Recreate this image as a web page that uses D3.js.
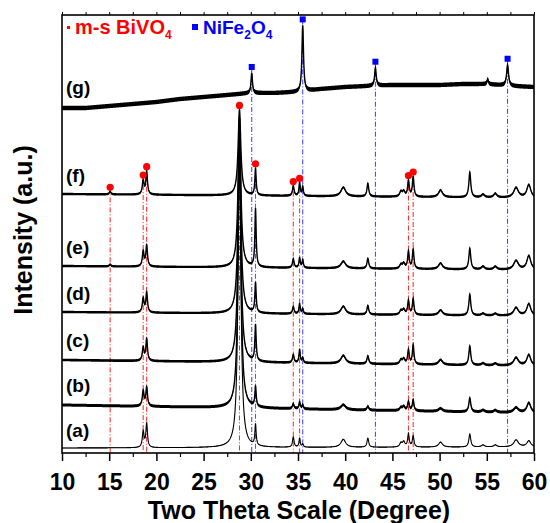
<!DOCTYPE html>
<html>
<head>
<meta charset="utf-8">
<script src="https://cdn.jsdelivr.net/npm/d3@7"></script>
<style>
  body { margin: 0; background: #fff; }
  text { font-family: "Liberation Sans", Arial, sans-serif; font-weight: bold; }
</style>
</head>
<body>
<div id="container"></div>
<script>
/* CONSTANTS AND GLOBALS */
const width = 550,
  height = 523,
  margin = {top: 15, right: 16, bottom: 70, left: 62};

/* DATA */
const xTicks = [10, 15, 20, 25, 30, 35, 40, 45, 50, 55, 60];
const xMinor = [12.5, 17.5, 22.5, 27.5, 32.5, 37.5, 42.5, 47.5, 52.5, 57.5];
const sampleLabels = ["(a)", "(b)", "(c)", "(d)", "(e)", "(f)", "(g)"];

// baselines (a.u.) at 10 and 60 degrees, samples a..f
const baseLeft = [5, 48, 93, 141, 187, 259];
const baseRight = [6, 40, 87, 137, 183, 255];
// visible noise band half-width, samples a..g
const noiseAmp = [0.3, 1.5, 1.3, 1.2, 1.2, 1.2, 2.2];

// reflections of the composite samples a..f
const peakPos =  [15.1, 18.6, 18.97, 28.8, 30.5, 34.5, 35.17, 35.5, 39.8, 42.4, 45.9, 46.2, 46.7, 47.2, 50.1, 53.2, 54.6, 55.9, 58.1, 59.45];
const peakHwhm = [0.1, 0.11, 0.1, 0.17, 0.08, 0.1, 0.08, 0.08, 0.3, 0.11, 0.15, 0.15, 0.1, 0.1, 0.25, 0.12, 0.2, 0.2, 0.3, 0.25];
const heightsA = [0, 16, 24, 318, 21, 10, 9, 3, 8, 9, 4, 5, 13, 11, 5, 13, 2, 2, 7, 6];
const heightsB = [0, 15, 19, 280, 20, 5, 7, 4, 5, 4, 3, 4, 9, 11, 3, 14, 2, 2, 5, 10];
const heightsC = [0, 13, 22, 235, 36, 8, 13, 5, 8, 8, 4, 5, 14, 19, 5, 19, 2, 2, 8, 11];
const heightsD = [0, 14, 20, 190, 30, 7, 10, 5, 8, 9, 4, 5, 14, 16, 5, 21, 2, 2, 8, 12];
const heightsE = [2, 15, 21, 150, 58, 9, 10, 8, 7, 10, 4, 5, 17, 19, 6, 21, 3, 3, 9, 14];
const heightsF = [3, 14, 23, 86, 27, 10, 13, 9, 9, 13, 5, 5, 16, 20, 7, 25, 3, 4, 10, 13];

// pure NiFe2O4 (g): sloping background plus its reflections
const gBackX = [10, 12.5, 15, 17.5, 20, 22.5, 25, 27.5, 30, 32.5, 35, 37.5, 40, 42.5, 45, 47.5, 50, 52.5, 55, 57.5, 60];
const gBackY = [345, 345, 347, 349, 351, 354, 356, 358, 360, 360, 361, 364, 366, 367, 368, 368, 368, 369, 369, 367, 366];
const gPeakPos = [30.1, 35.5, 43.2, 55.1, 57.2];
const gPeakHwhm = [0.09, 0.1, 0.1, 0.08, 0.12];
const gPeakHeight = [20, 66, 18, 5, 21];

const bivoMarks = [15.1, 18.6, 18.97, 28.8, 30.5, 34.5, 35.17, 46.7, 47.2];
const nifeMarks = [30.1, 35.5, 43.2, 57.2];

/* SCALES */
const xScale = d3.scaleLinear()
  .domain([10, 60])
  .range([margin.left, width - margin.right]);

const yScale = d3.scaleLinear()
  .domain([0, 438])
  .range([height - margin.bottom, margin.top]);

/* BUILD PATTERNS */
const step = 0.02;
const twoTheta = d3.range(10, 60 + step / 2, step);

function peakSum(t, pos, hw, hts) {
  let s = 0;
  for (let i = 0; i < pos.length; i++) {
    if (!hts[i]) continue;
    const u = (t - pos[i]) / hw[i];
    s += hts[i] / (1 + u * u);
  }
  return s;
}

const compHeights = [heightsA, heightsB, heightsC, heightsD, heightsE, heightsF];
const patterns = compHeights.map((hts, k) => twoTheta.map(t => ({
  t: t,
  v: baseLeft[k] + (baseRight[k] - baseLeft[k]) * (t - 10) / 50 + peakSum(t, peakPos, peakHwhm, hts)
})));

const gBack = d3.scaleLinear().domain(gBackX).range(gBackY);
patterns.push(twoTheta.map(t => ({
  t: t,
  v: gBack(t) + peakSum(t, gPeakPos, gPeakHwhm, gPeakHeight)
})));

function valueAt(p, t) {
  const i = Math.round((t - 10) / step);
  return p[Math.max(0, Math.min(p.length - 1, i))].v;
}

/* CREATE SVG ELEMENT */
const svg = d3.select("#container")
  .append("svg")
  .attr("width", width)
  .attr("height", height);

/* REFERENCE LINES */
const fPat = patterns[5], gPat = patterns[6];
const bottomY = yScale(0);

svg.append("g")
  .selectAll("line")
  .data(bivoMarks)
  .join("line")
  .attr("x1", d => xScale(d))
  .attr("x2", d => xScale(d))
  .attr("y1", d => yScale(valueAt(fPat, d)) - 4)
  .attr("y2", bottomY)
  .attr("stroke", "#ff2020")
  .attr("stroke-width", 1)
  .attr("stroke-dasharray", "5,2,1,2");

svg.append("g")
  .selectAll("line")
  .data(nifeMarks)
  .join("line")
  .attr("x1", d => xScale(d))
  .attr("x2", d => xScale(d))
  .attr("y1", d => yScale(valueAt(gPat, d)) - 6)
  .attr("y2", bottomY)
  .attr("stroke", "#3a3aff")
  .attr("stroke-width", 1)
  .attr("stroke-dasharray", "5,2,1,2");

/* DRAW PATTERNS */
const band = d3.area()
  .x(d => xScale(d.t))
  .y0(d => yScale(d.v) - d.n)
  .y1(d => yScale(d.v) + d.n);

const line = d3.line()
  .x(d => xScale(d.t))
  .y(d => yScale(d.v));

patterns.forEach((p, k) => {
  const withNoise = p.map(d => ({t: d.t, v: d.v, n: noiseAmp[k]}));
  svg.append("path")
    .attr("d", band(withNoise))
    .attr("fill", "#000");
  svg.append("path")
    .attr("d", line(p))
    .attr("fill", "none")
    .attr("stroke", "#000")
    .attr("stroke-width", k === 0 ? 1.1 : 1.4);
  svg.append("text")
    .attr("x", 66)
    .attr("y", yScale(p[0].v + 10 + noiseAmp[k] * 2))
    .attr("font-size", 19)
    .attr("fill", "#000")
    .text(sampleLabels[k]);
});

/* MARKERS */
svg.append("g")
  .selectAll("circle")
  .data(bivoMarks)
  .join("circle")
  .attr("cx", d => xScale(d))
  .attr("cy", d => yScale(valueAt(fPat, d)) - 4)
  .attr("r", 3.6)
  .attr("fill", "#ff0000");

svg.append("g")
  .selectAll("rect")
  .data(nifeMarks)
  .join("rect")
  .attr("x", d => xScale(d) - 3)
  .attr("y", d => yScale(valueAt(gPat, d)) - 9)
  .attr("width", 6)
  .attr("height", 6)
  .attr("fill", "#0000ff");

/* AXES */
const xAxis = d3.axisBottom(xScale).tickValues(xTicks).tickSize(8).tickPadding(13).tickFormat(d3.format("d"));
const gx = svg.append("g")
  .attr("transform", `translate(0,${height - margin.bottom})`)
  .call(xAxis);
gx.select(".domain").remove();
gx.selectAll("line").attr("stroke-width", 1.5);
gx.selectAll("text").attr("font-size", 23).attr("fill", "#000");

svg.append("g")
  .attr("transform", `translate(0,${height - margin.bottom})`)
  .call(d3.axisBottom(xScale).tickValues(xMinor).tickSize(4).tickFormat(""))
  .call(g => g.select(".domain").remove())
  .call(g => g.selectAll("line").attr("stroke-width", 1.2));

svg.append("g")
  .attr("transform", `translate(0,${margin.top})`)
  .call(d3.axisTop(xScale).tickValues(xTicks.concat(xMinor)).tickSize(3).tickFormat(""))
  .call(g => g.select(".domain").remove())
  .call(g => g.selectAll("line").attr("stroke-width", 1));

// frame
svg.append("rect")
  .attr("x", margin.left)
  .attr("y", margin.top)
  .attr("width", width - margin.left - margin.right)
  .attr("height", height - margin.top - margin.bottom)
  .attr("fill", "none")
  .attr("stroke", "#000")
  .attr("stroke-width", 1.6);

/* AXIS TITLES */
svg.append("text")
  .attr("x", 299)
  .attr("y", 519)
  .attr("text-anchor", "middle")
  .attr("font-size", 25)
  .text("Two Theta Scale (Degree)");

svg.append("text")
  .attr("transform", `translate(32,230) rotate(-90)`)
  .attr("text-anchor", "middle")
  .attr("font-size", 25)
  .text("Intensity (a.u.)");

/* LEGEND */
svg.append("rect")
  .attr("x", 67).attr("y", 26).attr("width", 3).attr("height", 3)
  .attr("fill", "#ff0000");
const lg1 = svg.append("text")
  .attr("x", 75).attr("y", 34)
  .attr("font-size", 20)
  .attr("fill", "#ff0000");
lg1.append("tspan").text("m-s BiVO");
lg1.append("tspan").attr("font-size", 12).attr("dy", 5).text("4");

svg.append("rect")
  .attr("x", 192).attr("y", 24).attr("width", 6).attr("height", 6)
  .attr("fill", "#0000ff");
const lg2 = svg.append("text")
  .attr("x", 203).attr("y", 34)
  .attr("font-size", 19)
  .attr("fill", "#0000ff");
lg2.append("tspan").text("NiFe");
lg2.append("tspan").attr("font-size", 12).attr("dy", 5).text("2");
lg2.append("tspan").attr("dy", -5).text("O");
lg2.append("tspan").attr("font-size", 12).attr("dy", 5).text("4");
</script>
</body>
</html>
